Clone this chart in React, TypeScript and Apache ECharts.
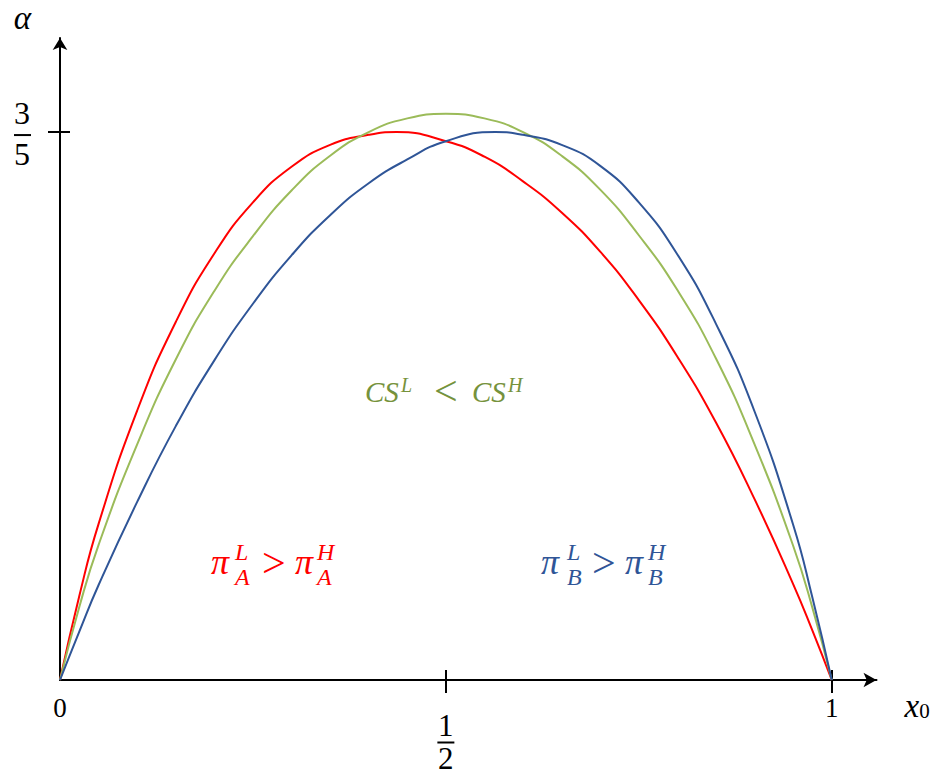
import React, { useEffect, useRef } from 'react';
import * as echarts from 'echarts';

// Axis tick positions and their labels ("a/b" is drawn as a stacked fraction)
const xTickValues = [0, 0.5, 1];
const xTickLabels = ['0', '1/2', '1'];
const yTickValues = [0.6];
const yTickLabels = ['3/5'];

// Boundary of firm A's profit comparison: x0 samples and alpha
const piAX0 = [
  0, 0.025, 0.05, 0.1, 0.15, 0.2, 0.25, 0.3, 0.35, 0.4, 0.436, 0.5,
  0.55, 0.6, 0.65, 0.7, 0.75, 0.8, 0.85, 0.9, 0.95, 0.975, 1,
];
const piAAlpha = [
  0, 0.092, 0.171, 0.295, 0.392, 0.467, 0.523, 0.562, 0.586, 0.597, 0.6, 0.59,
  0.573, 0.546, 0.512, 0.469, 0.416, 0.354, 0.282, 0.198, 0.105, 0.054, 0,
];
// Boundary of the consumer-surplus comparison
const csX0 = [
  0, 0.025, 0.05, 0.1, 0.15, 0.2, 0.25, 0.3, 0.35, 0.4, 0.45, 0.5,
  0.55, 0.6, 0.65, 0.7, 0.75, 0.8, 0.85, 0.9, 0.95, 0.975, 1,
];
const csAlpha = [
  0, 0.08, 0.148, 0.258, 0.351, 0.426, 0.486, 0.536, 0.574, 0.6, 0.615, 0.62,
  0.615, 0.6, 0.574, 0.537, 0.487, 0.427, 0.352, 0.258, 0.147, 0.079, 0,
];
// Boundary of firm B's profit comparison
const piBX0 = [
  0, 0.025, 0.05, 0.1, 0.15, 0.2, 0.25, 0.3, 0.35, 0.4, 0.45, 0.5,
  0.564, 0.6, 0.65, 0.7, 0.75, 0.8, 0.85, 0.9, 0.95, 0.975, 1,
];
const piBAlpha = [
  0, 0.053, 0.104, 0.195, 0.278, 0.35, 0.412, 0.465, 0.509, 0.544, 0.57, 0.59,
  0.6, 0.597, 0.586, 0.563, 0.523, 0.466, 0.39, 0.294, 0.17, 0.09, 0,
];

const SERIF = 'Liberation Serif, serif';
const INK = '#000000';
const RED = '#FF0000';
const GREEN_LINE = '#9BBB59';
const GREEN_TEXT = '#76923C';
const BLUE = '#2F5597';

// axis extents reach past 1 and 3/5 so the arrows sit beyond the last tick
const X_MAX = 1.058;
const Y_MAX = 0.703;

const isFraction = (s: string) => s.indexOf('/') >= 0;
const labelOf = (values: number[], labels: string[], v: number) => {
  const i = values.findIndex((t) => Math.abs(t - v) < 1e-9);
  return i >= 0 ? labels[i] : '';
};
const fraction = (s: string) => {
  const [n, d] = s.split('/');
  return `{num|${n}}\n{bar| }\n{den|${d}}`;
};

const glyph = (
  text: string,
  x: number,
  y: number,
  size: number,
  fill: string,
  italic = true,
  lineHeight = Math.round(size * 0.7),
) => ({
  type: 'text',
  x,
  y,
  silent: true,
  style: {
    text,
    fill,
    fontSize: size,
    fontFamily: SERIF,
    fontStyle: italic ? 'italic' : 'normal',
    lineHeight,
    align: 'left',
    verticalAlign: 'middle',
  },
});

// superscript over subscript, stacked in one block
const scripts = (sup: string, sub: string, x: number, y: number, fill: string) =>
  glyph(`${sup}\n${sub}`, x, y, 24, fill, true, 25);

export default function App() {
  const ref = useRef<HTMLDivElement>(null);

  useEffect(() => {
    if (!ref.current) return;
    const chart = echarts.init(ref.current, undefined, { renderer: 'svg' });

    const xPlain = xTickValues.filter((_, i) => !isFraction(xTickLabels[i]));
    const xFrac = xTickValues.filter((_, i) => isFraction(xTickLabels[i]));
    const xTicks = xTickValues.filter((v) => v > 0);

    const lineSeries = (xs: number[], alpha: number[], color: string) => ({
      type: 'line',
      data: xs.map((x, i) => [x, alpha[i]]),
      smooth: 0.5,
      symbol: 'none',
      showSymbol: false,
      clip: false,
      silent: true,
      lineStyle: { color, width: 2 },
      itemStyle: { color },
    });

    chart.setOption({
      animation: false,
      backgroundColor: '#ffffff',
      grid: {
        left: 60,
        top: 38,
        width: 816.5,
        height: 642,
        containLabel: false,
        outerBoundsMode: 'none',
      },
      xAxis: [
        {
          type: 'value',
          min: 0,
          max: X_MAX,
          position: 'bottom',
          name: '{v|x}{s|0}',
          nameLocation: 'end',
          nameGap: 28,
          nameTextStyle: {
            align: 'left',
            verticalAlign: 'top',
            padding: [11, 0, 0, 0],
            rich: {
              v: { fontSize: 33, fontStyle: 'italic', fontFamily: SERIF, color: INK, lineHeight: 30 },
              s: { fontSize: 21, fontFamily: SERIF, color: INK, lineHeight: 11, verticalAlign: 'bottom' },
            },
          },
          splitLine: { show: false },
          axisLine: {
            show: true,
            onZero: false,
            symbol: ['none', 'arrow'],
            symbolSize: [11, 13],
            lineStyle: { color: INK, width: 2 },
          },
          axisTick: {
            show: true,
            customValues: xTicks,
            length: 13,
            lineStyle: { color: INK, width: 2 },
          },
          axisLabel: {
            show: true,
            customValues: xPlain,
            margin: 15,
            formatter: (v: number) => `{d|${labelOf(xTickValues, xTickLabels, v)}}`,
            rich: {
              d: { fontSize: 27, fontFamily: SERIF, color: INK, lineHeight: 26 },
            },
          },
        },
        {
          type: 'value',
          min: 0,
          max: X_MAX,
          position: 'bottom',
          splitLine: { show: false },
          axisLine: { show: false },
          axisTick: {
            show: true,
            inside: true,
            customValues: xTicks,
            length: 10,
            lineStyle: { color: INK, width: 2 },
          },
          axisLabel: {
            show: true,
            customValues: xFrac,
            margin: 33,
            formatter: (v: number) => fraction(labelOf(xTickValues, xTickLabels, v)),
            rich: {
              num: { fontSize: 31, fontFamily: SERIF, color: INK, lineHeight: 24, width: 18, align: 'center' },
              bar: { width: 17, height: 2, lineHeight: 11, backgroundColor: INK },
              den: { fontSize: 31, fontFamily: SERIF, color: INK, lineHeight: 20, width: 18, align: 'center' },
            },
          },
        },
      ],
      yAxis: [
        {
          type: 'value',
          min: 0,
          max: Y_MAX,
          position: 'left',
          name: 'α',
          nameLocation: 'end',
          nameGap: 20,
          nameTextStyle: {
            fontSize: 33,
            fontStyle: 'italic',
            fontFamily: SERIF,
            color: INK,
            lineHeight: 22,
            align: 'right',
            verticalAlign: 'middle',
            padding: [0, 29, 0, 0],
          },
          splitLine: { show: false },
          axisLine: {
            show: true,
            onZero: false,
            symbol: ['none', 'arrow'],
            symbolSize: [11, 12],
            lineStyle: { color: INK, width: 2 },
          },
          axisTick: {
            show: true,
            customValues: yTickValues,
            length: 12,
            lineStyle: { color: INK, width: 2 },
          },
          axisLabel: {
            show: true,
            customValues: yTickValues,
            margin: 29,
            formatter: (v: number) => fraction(labelOf(yTickValues, yTickLabels, v)),
            rich: {
              num: { fontSize: 32, fontFamily: SERIF, color: INK, lineHeight: 36, width: 18, align: 'center' },
              bar: { width: 17, height: 2, lineHeight: 8, backgroundColor: INK },
              den: { fontSize: 32, fontFamily: SERIF, color: INK, lineHeight: 30, width: 18, align: 'center' },
            },
          },
        },
        {
          type: 'value',
          min: 0,
          max: Y_MAX,
          position: 'left',
          splitLine: { show: false },
          axisLine: { show: false },
          axisLabel: { show: false },
          axisTick: {
            show: true,
            inside: true,
            customValues: yTickValues,
            length: 10,
            lineStyle: { color: INK, width: 2 },
          },
        },
      ],
      series: [
        lineSeries(piAX0, piAAlpha, RED),
        lineSeries(csX0, csAlpha, GREEN_LINE),
        lineSeries(piBX0, piBAlpha, BLUE),
      ],
      graphic: [
        // consumer surplus comparison
        glyph('CS', 365, 392, 29, GREEN_TEXT),
        glyph('L', 401, 385, 20, GREEN_TEXT),
        glyph('<', 434, 391, 42, GREEN_TEXT, false),
        glyph('CS', 472, 392, 29, GREEN_TEXT),
        glyph('H', 508, 385, 20, GREEN_TEXT),
        // firm A profits
        glyph('π', 211, 562, 36, RED),
        scripts('L', 'A', 235, 564.5, RED),
        glyph('>', 262, 563, 42, RED, false),
        glyph('π', 295, 562, 36, RED),
        scripts('H', 'A', 317, 564.5, RED),
        // firm B profits
        glyph('π', 541, 562, 36, BLUE),
        scripts('L', 'B', 567, 564.5, BLUE),
        glyph('>', 592, 563, 42, BLUE, false),
        glyph('π', 625, 562, 36, BLUE),
        scripts('H', 'B', 648, 564.5, BLUE),
      ],
    });

    return () => chart.dispose();
  }, []);

  return (
    <div
      ref={ref}
      style={{ position: 'fixed', left: 0, top: 0, width: 940, height: 775, background: '#ffffff' }}
    />
  );
}
